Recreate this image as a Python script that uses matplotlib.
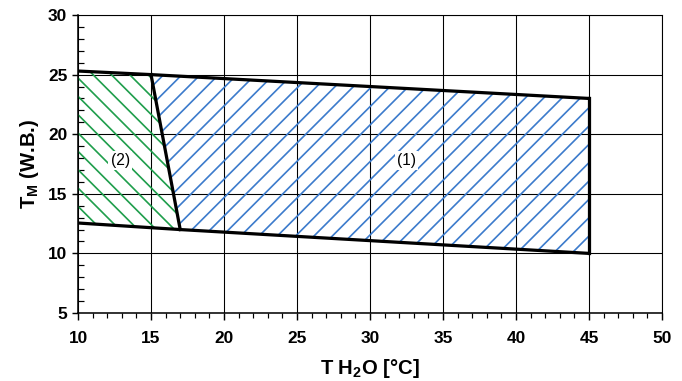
import matplotlib
matplotlib.use('Agg')
import matplotlib.pyplot as plt
from matplotlib.ticker import MultipleLocator

plt.rcParams['font.family'] = ['Liberation Sans', 'DejaVu Sans']
plt.rcParams['mathtext.fontset'] = 'custom'
plt.rcParams['mathtext.rm'] = 'Liberation Sans:bold'

# boundary of the operating field
t_upper = [10, 15, 45]
tm_upper = [25.3, 25.0, 23.0]
t_lower = [10, 17, 45]
tm_lower = [12.55, 12.0, 10.0]

labels = ['(1)', '(2)']
label_t = [32.5, 12.9]
label_tm = [17.8, 17.8]

green = '#1f9e4c'
blue = '#3c7bcc'

dpi = 110
s = 86 / dpi  # sizes below were tuned at 86 dpi
plt.rcParams['hatch.linewidth'] = 1.4 * s
fig = plt.figure(figsize=(682 / dpi, 381 / dpi), dpi=dpi)
ax = fig.add_axes([0.1144, 0.1785, 0.8563, 0.7821])

# region (2): between 10 C and the divider
x2 = [t_upper[0], t_upper[1], t_lower[1], t_lower[0]]
y2 = [tm_upper[0], tm_upper[1], tm_lower[1], tm_lower[0]]
ax.fill(x2, y2, facecolor='none', edgecolor=green, lw=0, hatch='\\\\', zorder=2)

# region (1): from the divider to 45 C
x1 = [t_upper[1], t_upper[2], t_lower[2], t_lower[1]]
y1 = [tm_upper[1], tm_upper[2], tm_lower[2], tm_lower[1]]
ax.fill(x1, y1, facecolor='none', edgecolor=blue, lw=0, hatch='//', zorder=2)

# thick outlines
lw = 2.7 * s
ax.plot(t_upper, tm_upper, color='black', lw=lw, zorder=4)
ax.plot(t_lower, tm_lower, color='black', lw=lw, zorder=4)
ax.plot([t_upper[2], t_lower[2]], [tm_upper[2], tm_lower[2]], color='black', lw=lw, zorder=4)
ax.plot([t_upper[1], t_lower[1]], [tm_upper[1], tm_lower[1]], color='black', lw=lw, zorder=4)

for lab, tx, ty in zip(labels, label_t, label_tm):
    ax.text(tx, ty, lab, ha='center', va='center', fontsize=13 * s, zorder=3,
            bbox=dict(facecolor='white', edgecolor='none', pad=1.5))

ax.set_xlim(10, 50)
ax.set_ylim(5, 30)
ax.xaxis.set_major_locator(MultipleLocator(5))
ax.xaxis.set_minor_locator(MultipleLocator(1))
ax.yaxis.set_major_locator(MultipleLocator(5))
ax.yaxis.set_minor_locator(MultipleLocator(1))
ax.grid(True, which='major', color='black', lw=0.9 * s, zorder=1)
ax.set_axisbelow(True)

ax.tick_params(axis='x', which='major', direction='out', length=6 * s, width=1.2 * s,
               pad=9 * s, labelsize=14.5 * s)
ax.tick_params(axis='x', which='minor', direction='out', length=4 * s, width=1.0 * s)
ax.tick_params(axis='y', which='major', direction='out', length=5 * s, width=1.2 * s,
               pad=4 * s, labelsize=14.5 * s)
ax.tick_params(axis='y', which='minor', direction='in', length=5 * s, width=1.0 * s)
for lab in ax.get_xticklabels() + ax.get_yticklabels():
    lab.set_fontweight('bold')

for side in ['top', 'right']:
    ax.spines[side].set_linewidth(0.9 * s)
for side in ['left', 'bottom']:
    ax.spines[side].set_linewidth(1.3 * s)

ax.set_xlabel(r'T H$_\mathregular{2}$O [°C]', fontsize=17 * s, fontweight='bold', labelpad=9 * s)
ax.set_ylabel(r'T$_\mathregular{M}$ (W.B.)', fontsize=17 * s, fontweight='bold', labelpad=6 * s)

fig.savefig('out.png', dpi=dpi)
